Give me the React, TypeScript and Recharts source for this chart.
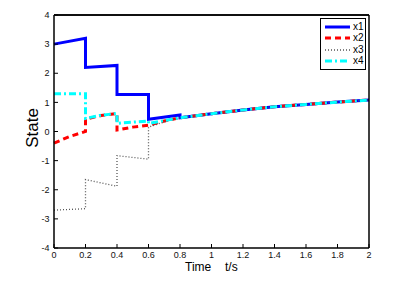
import React from "react";
import { LineChart, Line, XAxis, YAxis, Legend, ReferenceLine } from "recharts";

const x1Time = [0, 0.2, 0.2, 0.4, 0.4, 0.6, 0.6, 0.8, 0.8, 0.9, 1.0, 1.2, 1.4, 1.6, 1.8, 2.0];
const x1State = [3.0, 3.2, 2.2, 2.27, 1.27, 1.27, 0.42, 0.57, 0.47, 0.54, 0.61, 0.74, 0.85, 0.93, 1.01, 1.08];

const x2Time = [0, 0.1, 0.2, 0.2, 0.3, 0.4, 0.4, 0.5, 0.6, 0.7, 0.8, 0.9, 1.0, 1.2, 1.4, 1.6, 1.8, 2.0];
const x2State = [-0.4, -0.17, 0.0, 0.42, 0.55, 0.62, 0.05, 0.15, 0.22, 0.36, 0.47, 0.54, 0.61, 0.74, 0.85, 0.93, 1.01, 1.08];

const x3Time = [0, 0.2, 0.2, 0.4, 0.4, 0.6, 0.6, 0.7, 0.8, 0.9, 1.0, 1.2, 1.4, 1.6, 1.8, 2.0];
const x3State = [-2.7, -2.65, -1.65, -1.88, -0.83, -0.95, 0.15, 0.33, 0.47, 0.54, 0.61, 0.74, 0.85, 0.93, 1.01, 1.08];

const x4Time = [0, 0.2, 0.2, 0.3, 0.4, 0.4, 0.6, 0.6, 0.7, 0.8, 0.9, 1.0, 1.2, 1.4, 1.6, 1.8, 2.0];
const x4State = [1.3, 1.3, 0.45, 0.56, 0.62, 0.28, 0.36, 0.27, 0.38, 0.47, 0.54, 0.61, 0.74, 0.85, 0.93, 1.01, 1.08];

const xTicks = [0, 0.2, 0.4, 0.6, 0.8, 1, 1.2, 1.4, 1.6, 1.8, 2];
const yTicks = [-4, -3, -2, -1, 0, 1, 2, 3, 4];

const seriesNames = ["x1", "x2", "x3", "x4"];

const toData = (t: number[], v: number[]) => t.map((tt, i) => ({ t: tt, v: v[i] }));

const FONT = "'Liberation Sans', Arial, Helvetica, sans-serif";

const styles = [
  { color: "#0000ff", width: 3, dash: undefined as string | undefined },
  { color: "#ff0000", width: 3, dash: "6 4" },
  { color: "#555555", width: 1.3, dash: "1 2" },
  { color: "#00ffff", width: 3, dash: "7 3 2 3" },
];

const BottomTick = (props: any) => {
  const { x, y, payload } = props;
  const axisY = y - 4;
  return (
    <g>
      <line x1={x} y1={axisY} x2={x} y2={axisY - 4} stroke="#000" strokeWidth={1} />
      <text x={x} y={y} dy="0.71em" textAnchor="middle" fontSize={9} fontFamily={FONT} fill="#111">
        {String(payload.value)}
      </text>
    </g>
  );
};

const LeftTick = (props: any) => {
  const { x, y, payload } = props;
  const axisX = x + 4.5;
  return (
    <g>
      <line x1={axisX} y1={y} x2={axisX + 4} y2={y} stroke="#000" strokeWidth={1} />
      <text x={x} y={y} dy="0.35em" textAnchor="end" fontSize={9} fontFamily={FONT} fill="#111">
        {String(payload.value)}
      </text>
    </g>
  );
};

const TopTick = (props: any) => {
  const { x, y } = props;
  return <line x1={x} y1={y} x2={x} y2={y + 4} stroke="#000" strokeWidth={1} />;
};

const RightTick = (props: any) => {
  const { x, y } = props;
  return <line x1={x} y1={y} x2={x - 4} y2={y} stroke="#000" strokeWidth={1} />;
};

const LegendBox = () => (
  <div
    style={{
      border: "1px solid #000",
      background: "#fff",
      width: 46,
      padding: "2px 0",
      boxSizing: "border-box",
    }}
  >
    {seriesNames.map((n, i) => (
      <div key={n} style={{ display: "flex", alignItems: "center", height: 11.5 }}>
        <svg width={30} height={8} style={{ display: "block" }}>
          <line
            x1={4}
            y1={4}
            x2={29}
            y2={4}
            stroke={styles[i].color}
            strokeWidth={styles[i].width}
            strokeDasharray={styles[i].dash}
          />
        </svg>
        <span style={{ fontFamily: FONT, fontSize: 10, lineHeight: "10px", marginLeft: 2, color: "#000" }}>{n}</span>
      </div>
    ))}
  </div>
);

const allData = [toData(x1Time, x1State), toData(x2Time, x2State), toData(x3Time, x3State), toData(x4Time, x4State)];

export default function App() {
  return (
    <div style={{ position: "absolute", left: 0, top: 0, width: 402, height: 282, background: "#fff" }}>
      <LineChart width={402} height={282} margin={{ top: 14, right: 32, bottom: 14, left: 14 }}>
        <XAxis
          xAxisId="b"
          dataKey="t"
          type="number"
          domain={[0, 2]}
          ticks={xTicks}
          allowDuplicatedCategory={false}
          height={20}
          tickSize={0}
          tickMargin={4}
          tickLine={false}
          tick={<BottomTick />}
          axisLine={{ stroke: "#000", strokeWidth: 1.5 }}
          interval={0}
          label={{
            content: () => (
              <text y={271} fontSize={12} fontFamily={FONT} fill="#000">
                <tspan x={185}>Time</tspan>
                <tspan x={225}>t/s</tspan>
              </text>
            ),
          }}
        />
        <XAxis
          xAxisId="top"
          orientation="top"
          dataKey="t"
          type="number"
          domain={[0, 2]}
          ticks={xTicks}
          height={1}
          tickSize={0}
          tickMargin={0}
          tickLine={false}
          tick={<TopTick />}
          axisLine={{ stroke: "#000", strokeWidth: 1.5 }}
          interval={0}
        />
        <YAxis
          yAxisId="l"
          type="number"
          domain={[-4, 4]}
          ticks={yTicks}
          width={40}
          tickSize={0}
          tickMargin={4.5}
          tickLine={false}
          tick={<LeftTick />}
          axisLine={{ stroke: "#000", strokeWidth: 1.5 }}
          interval={0}
          label={{
            content: () => (
              <text
                x={32}
                y={128}
                dy="0.35em"
                transform="rotate(-90 32 128)"
                textAnchor="middle"
                fontSize={17}
                fontFamily={FONT}
                fill="#000"
              >
                State
              </text>
            ),
          }}
        />
        <YAxis
          yAxisId="r"
          orientation="right"
          type="number"
          domain={[-4, 4]}
          ticks={yTicks}
          width={1}
          tickSize={0}
          tickMargin={0}
          tickLine={false}
          tick={<RightTick />}
          axisLine={{ stroke: "#000", strokeWidth: 1.5 }}
          interval={0}
        />
        <ReferenceLine xAxisId="b" yAxisId="l" y={4} stroke="#000" strokeWidth={1.5} />
        {allData.map((d, i) => (
          <Line
            key={seriesNames[i]}
            xAxisId="b"
            yAxisId="l"
            data={d}
            dataKey="v"
            name={seriesNames[i]}
            type="linear"
            stroke={styles[i].color}
            strokeWidth={styles[i].width}
            strokeDasharray={styles[i].dash}
            dot={false}
            activeDot={false}
            isAnimationActive={false}
          />
        ))}
        <Legend
          layout="horizontal"
          verticalAlign="middle"
          align="center"
          content={() => <LegendBox />}
          wrapperStyle={{ position: "absolute", top: 18, left: 320, width: 46 }}
        />
      </LineChart>
    </div>
  );
}
